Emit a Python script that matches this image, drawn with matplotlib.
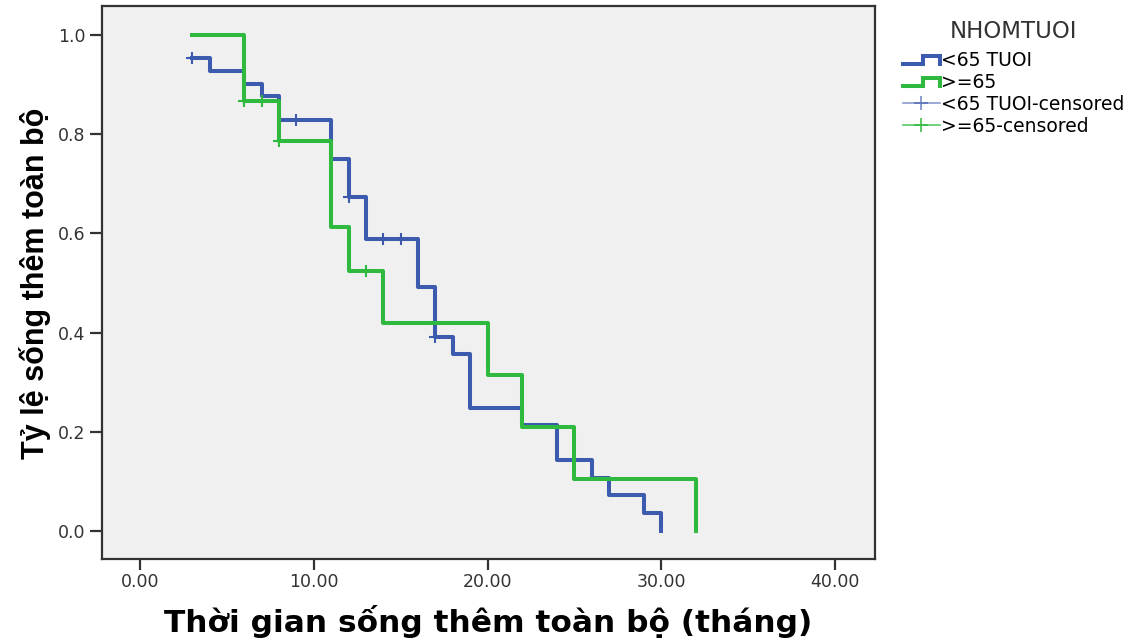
import matplotlib
matplotlib.use('Agg')
import matplotlib.pyplot as plt
from matplotlib.legend_handler import HandlerBase
from matplotlib.lines import Line2D

# Kaplan-Meier steps
t_young = [3, 4, 6, 7, 8, 11, 12, 13, 16, 17, 18, 19, 22, 24, 26, 27, 29, 30]
s_young = [0.954, 0.928, 0.901, 0.877, 0.828, 0.750, 0.673, 0.588, 0.491,
           0.392, 0.357, 0.249, 0.214, 0.143, 0.108, 0.072, 0.036, 0.0]
t_old = [3, 6, 8, 11, 12, 14, 20, 22, 25, 32]
s_old = [1.0, 0.867, 0.787, 0.612, 0.525, 0.420, 0.315, 0.210, 0.105, 0.0]

# censored observations
cens_young_t = [3, 9, 12, 14, 15, 17]
cens_young_s = [0.954, 0.828, 0.673, 0.588, 0.588, 0.392]
cens_old_t = [6, 7, 8, 13]
cens_old_s = [0.867, 0.867, 0.787, 0.525]

group_names = ['<65 TUOI', '>=65']
blue = '#3c5aae'
green = '#2fba3f'

plt.rcParams['font.family'] = ['DejaVu Sans']


class StepHandler(HandlerBase):
    # small step-shaped icon like SPSS draws
    def create_artists(self, legend, orig, xd, yd, width, height, fontsize, trans):
        lo = yd + height * 0.2
        hi = yd + height * 0.75
        xs = [xd, xd + width * 0.55, xd + width * 0.55, xd + width, xd + width]
        ys = [lo, lo, hi, hi, lo]
        ln = Line2D(xs, ys, color=orig.get_color(), lw=orig.get_linewidth(),
                    solid_joinstyle='miter', transform=trans)
        return [ln]


dpi = 100
W, H = 1138, 642
fig = plt.figure(figsize=(W / dpi, H / dpi), dpi=dpi)
ax = fig.add_axes([102 / W, 1 - 559 / H, (875 - 102) / W, (559 - 6) / H])
ax.set_facecolor('#f0f0f0')

l1, = ax.step(t_young, s_young, where='post', color=blue, lw=2.9, zorder=3)
l2, = ax.step(t_old, s_old, where='post', color=green, lw=2.9, zorder=3)
ax.plot(cens_young_t, cens_young_s, ls='none', marker='+', ms=9,
        mew=1.5, color=blue, zorder=4)
ax.plot(cens_old_t, cens_old_s, ls='none', marker='+', ms=9,
        mew=1.5, color=green, zorder=4)

ax.set_xlim(-2.19, 42.3)
ax.set_ylim(-0.056, 1.058)
ax.set_xticks([0, 10, 20, 30, 40])
ax.set_xticklabels(['%.2f' % v for v in [0, 10, 20, 30, 40]])
ax.set_yticks([0.0, 0.2, 0.4, 0.6, 0.8, 1.0])
ax.set_yticklabels(['%.1f' % v for v in [0.0, 0.2, 0.4, 0.6, 0.8, 1.0]])
ax.tick_params(width=1.6, color='#333333', labelcolor='#333333',
               labelsize=12.5)
ax.tick_params(axis='x', length=8, pad=2)
ax.tick_params(axis='y', length=9, pad=3)
for sp in ax.spines.values():
    sp.set_color('#333333')
    sp.set_linewidth(1.6)

ax.set_xlabel('Thời gian sống thêm toàn bộ (tháng)', fontsize=22.5,
              fontweight='bold', va='baseline')
ax.xaxis.set_label_coords(0.5, (559 - 632) / 553)
ax.set_ylabel('Tỷ lệ sống thêm toàn bộ', fontsize=22, fontweight='bold',
              family='Liberation Sans', va='center')
ax.yaxis.set_label_coords((35 - 102) / 773, 0.498)

# legend handles: censored entries get a line with a cross
h3 = Line2D([], [], color=blue, lw=1.2, alpha=0.6, marker='+', ms=10,
            mew=1.4, mec=blue)
h4 = Line2D([], [], color=green, lw=1.2, alpha=0.8, marker='+', ms=10,
            mew=1.4, mec=green)
leg = fig.legend([l1, l2, h3, h4],
                 [group_names[0], group_names[1],
                  group_names[0] + '-censored', group_names[1] + '-censored'],
                 loc='upper left', bbox_to_anchor=(903 / W, 1 - 20 / H),
                 frameon=False, title='NHOMTUOI', fontsize=13.5,
                 title_fontsize=16.5, handlelength=1.95, handletextpad=0.1,
                 labelspacing=0.15, borderaxespad=0, borderpad=0,
                 handler_map={l1: StepHandler(), l2: StepHandler()})
leg.get_title().set_color('#333333')
leg._legend_box.sep = 6

fig.savefig('out.png', dpi=dpi)
